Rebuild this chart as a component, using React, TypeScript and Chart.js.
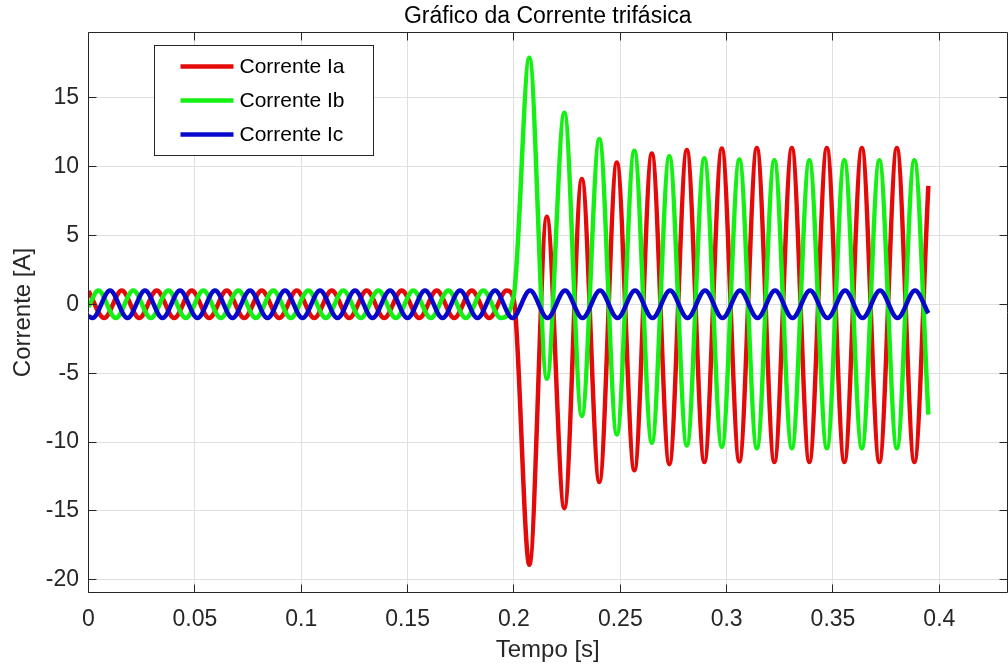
import React, { useEffect, useRef } from "react";
import { Chart, registerables } from "chart.js";

Chart.register(...registerables);

// Turning points (peaks/troughs) of each phase current, plus the fault instant
// and the first/last samples. Times in seconds, currents in amperes.
const IA_TIME = [
  0,
  0.00738, 0.01561, 0.02384, 0.03207, 0.04029, 0.04852, 0.05675, 0.06498,
  0.0732, 0.08143, 0.08966, 0.09789, 0.10611, 0.11434, 0.12257, 0.1308,
  0.13902, 0.14725, 0.15548, 0.16371, 0.17193, 0.18016, 0.18839, 0.19662,
  0.2,
  0.20724, 0.21547, 0.2237, 0.23192, 0.24015, 0.24838, 0.25661, 0.26483,
  0.27306, 0.28129, 0.28952, 0.29774, 0.30597, 0.3142, 0.32243, 0.33065,
  0.33888, 0.34711, 0.35534, 0.36356, 0.37179, 0.38002, 0.38825,
  0.39483,
];
const IA_VALUE = [
  0.95,
  -1, 1, -1, 1, -1, 1, -1, 1,
  -1, 1, -1, 1, -1, 1, -1, 1,
  -1, 1, -1, 1, -1, 1, -1, 1,
  0.28,
  -18.9, 6.35, -14.8, 9.1, -12.9, 10.3, -12.05, 10.95,
  -11.6, 11.2, -11.45, 11.3, -11.4, 11.35, -11.45, 11.35,
  -11.45, 11.35, -11.45, 11.35, -11.45, 11.35, -11.45,
  8.6,
];

const IB_TIME = [
  0,
  0.00461, 0.01284, 0.02106, 0.02929, 0.03752, 0.04575, 0.05397, 0.0622,
  0.07043, 0.07866, 0.08688, 0.09511, 0.10334, 0.11157, 0.11979, 0.12802,
  0.13625, 0.14448, 0.1527, 0.16093, 0.16916, 0.17739, 0.18561, 0.19384,
  0.2,
  0.20724, 0.21547, 0.2237, 0.23192, 0.24015, 0.24838, 0.25661, 0.26483,
  0.27306, 0.28129, 0.28952, 0.29774, 0.30597, 0.3142, 0.32243, 0.33065,
  0.33888, 0.34711, 0.35534, 0.36356, 0.37179, 0.38002, 0.38825,
  0.39483,
];
const IB_VALUE = [
  -0.18,
  1, -1, 1, -1, 1, -1, 1, -1,
  1, -1, 1, -1, 1, -1, 1, -1,
  1, -1, 1, -1, 1, -1, 1, -1,
  0.7,
  17.9, -5.4, 13.9, -8.1, 12.0, -9.45, 11.15, -10.05,
  10.75, -10.25, 10.6, -10.35, 10.5, -10.45, 10.45, -10.45,
  10.45, -10.45, 10.45, -10.45, 10.45, -10.45, 10.45,
  -8.0,
];

const IC_TIME = [
  0,
  0.00188, 0.01011, 0.01834, 0.02656, 0.03479, 0.04302, 0.05125, 0.05947,
  0.0677, 0.07593, 0.08416, 0.09238, 0.10061, 0.10884, 0.11707, 0.12529,
  0.13352, 0.14175, 0.14998, 0.1582, 0.16643, 0.17466, 0.18289, 0.19111,
  0.19934, 0.20757, 0.2158, 0.22403, 0.23225, 0.24048, 0.24871, 0.25694,
  0.26516, 0.27339, 0.28162, 0.28985, 0.29807, 0.3063, 0.31453, 0.32276,
  0.33098, 0.33921, 0.34744, 0.35567, 0.36389, 0.37212, 0.38035, 0.38858,
  0.39483,
];
const IC_VALUE = [
  -0.85,
  -1, 1, -1, 1, -1, 1, -1, 1,
  -1, 1, -1, 1, -1, 1, -1, 1,
  -1, 1, -1, 1, -1, 1, -1, 1,
  -1, 1, -1, 1, -1, 1, -1, 1,
  -1, 1, -1, 1, -1, 1, -1, 1,
  -1, 1, -1, 1, -1, 1, -1, 1,
  -0.65,
];

const SERIES_LABELS = ["Corrente Ia", "Corrente Ib", "Corrente Ic"];
const SERIES_COLORS = ["rgb(228,10,10)", "rgb(20,240,20)", "rgb(8,8,204)"];

const X_TICKS = [0, 0.05, 0.1, 0.15, 0.2, 0.25, 0.3, 0.35, 0.4];
const Y_TICKS = [-20, -15, -10, -5, 0, 5, 10, 15];
const X_RANGE = [0, 0.4318];
const Y_RANGE = [-20.93, 19.74];

const FONT = "'Liberation Sans', Arial, Helvetica, sans-serif";
const AXIS_COLOR = "#262626";
const GRID_COLOR = "#dfdfdf";
const TICK_LEN = 8;

const W = 1008;
const H = 668;

const toPoints = (t: number[], v: number[]) => t.map((x, i) => ({ x, y: v[i] }));

// Box around the plot area with inward tick marks on all four sides.
const axesFrame = {
  id: "axesFrame",
  afterDatasetsDraw(chart: any) {
    const { ctx, chartArea, scales } = chart;
    const snap = (p: number) => Math.floor(p) + 0.5;
    const l = snap(chartArea.left);
    const r = snap(chartArea.right);
    const t = snap(chartArea.top);
    const b = snap(chartArea.bottom);
    ctx.save();
    ctx.strokeStyle = AXIS_COLOR;
    ctx.lineWidth = 1;
    ctx.beginPath();
    ctx.rect(l, t, r - l, b - t);
    X_TICKS.forEach((v) => {
      const x = snap(scales.x.getPixelForValue(v));
      ctx.moveTo(x, b);
      ctx.lineTo(x, b - TICK_LEN);
      ctx.moveTo(x, t);
      ctx.lineTo(x, t + TICK_LEN);
    });
    Y_TICKS.forEach((v) => {
      const y = snap(scales.y.getPixelForValue(v));
      ctx.moveTo(l, y);
      ctx.lineTo(l + TICK_LEN, y);
      ctx.moveTo(r, y);
      ctx.lineTo(r - TICK_LEN, y);
    });
    ctx.stroke();
    ctx.restore();
  },
};

// Boxed legend in the upper-left corner of the plot.
const legendBox = {
  id: "legendBox",
  afterDraw(chart: any) {
    const { ctx } = chart;
    const x0 = 154.5;
    const y0 = 45.5;
    const w = 219;
    const h = 110;
    ctx.save();
    ctx.fillStyle = "#ffffff";
    ctx.fillRect(x0, y0, w, h);
    ctx.strokeStyle = AXIS_COLOR;
    ctx.lineWidth = 1;
    ctx.strokeRect(x0, y0, w, h);
    ctx.font = `21px ${FONT}`;
    ctx.textBaseline = "middle";
    ctx.textAlign = "left";
    chart.data.datasets.forEach((ds: any, i: number) => {
      const y = y0 + 21 + i * 34;
      ctx.strokeStyle = ds.borderColor;
      ctx.lineWidth = 4.5;
      ctx.beginPath();
      ctx.moveTo(x0 + 26, y);
      ctx.lineTo(x0 + 79, y);
      ctx.stroke();
      ctx.fillStyle = "#000000";
      ctx.fillText(ds.label, x0 + 85, y + 1);
    });
    ctx.restore();
  },
};

export default function App() {
  const canvasRef = useRef<HTMLCanvasElement | null>(null);

  useEffect(() => {
    const canvas = canvasRef.current;
    if (!canvas) return;

    const series = [
      toPoints(IA_TIME, IA_VALUE),
      toPoints(IB_TIME, IB_VALUE),
      toPoints(IC_TIME, IC_VALUE),
    ];

    const chart = new Chart(canvas, {
      type: "line",
      data: {
        datasets: series.map((data, i) => ({
          label: SERIES_LABELS[i],
          data,
          borderColor: SERIES_COLORS[i],
          backgroundColor: SERIES_COLORS[i],
          borderWidth: 4.5,
          pointRadius: 0,
          fill: false,
          cubicInterpolationMode: "monotone" as const,
          borderJoinStyle: "round" as const,
          order: 2 - i,
        })),
      },
      options: {
        animation: false,
        responsive: false,
        devicePixelRatio: 1,
        events: [],
        layout: { padding: { top: 3.2, left: 0, right: 1, bottom: 0 } },
        plugins: {
          legend: { display: false },
          tooltip: { enabled: false },
          title: {
            display: true,
            text: "Gráfico da Corrente trifásica",
            color: "#000000",
            fullSize: false,
            font: { family: FONT, size: 23, weight: "normal" },
            padding: { top: 0, bottom: 1.5 },
          },
        },
        scales: {
          x: {
            type: "linear",
            min: X_RANGE[0],
            max: X_RANGE[1],
            afterBuildTicks: (axis: any) => {
              axis.ticks = X_TICKS.map((value) => ({ value }));
            },
            afterFit: (axis: any) => {
              axis.height = 75.3;
              axis.paddingLeft = 0;
              axis.paddingRight = 0;
            },
            ticks: {
              autoSkip: false,
              maxRotation: 0,
              padding: 13.5,
              color: AXIS_COLOR,
              font: { family: FONT, size: 23 },
              callback: (v: any) => String(Number(Number(v).toFixed(3))),
            },
            grid: { color: GRID_COLOR, lineWidth: 1, drawTicks: false },
            border: { display: false },
            title: {
              display: true,
              text: "Tempo [s]",
              color: AXIS_COLOR,
              font: { family: FONT, size: 24 },
              padding: { top: 0, bottom: 3.6 },
            },
          },
          y: {
            type: "linear",
            min: Y_RANGE[0],
            max: Y_RANGE[1],
            afterBuildTicks: (axis: any) => {
              axis.ticks = Y_TICKS.map((value) => ({ value }));
            },
            afterFit: (axis: any) => {
              axis.width = 88.5;
              axis.paddingTop = 0;
              axis.paddingBottom = 0;
            },
            ticks: {
              autoSkip: false,
              padding: 9.5,
              color: AXIS_COLOR,
              font: { family: FONT, size: 23 },
              callback: (v: any) => String(v),
            },
            grid: { color: GRID_COLOR, lineWidth: 1, drawTicks: false },
            border: { display: false },
            title: {
              display: true,
              text: "Corrente [A]",
              color: AXIS_COLOR,
              font: { family: FONT, size: 24 },
              padding: { top: 8.6, bottom: 0 },
            },
          },
        },
      },
      plugins: [axesFrame, legendBox],
    } as any);

    return () => chart.destroy();
  }, []);

  return (
    <div
      style={{
        position: "fixed",
        left: 0,
        top: 0,
        width: W,
        height: H,
        background: "#ffffff",
      }}
    >
      <canvas ref={canvasRef} width={W} height={H} style={{ display: "block" }} />
    </div>
  );
}
